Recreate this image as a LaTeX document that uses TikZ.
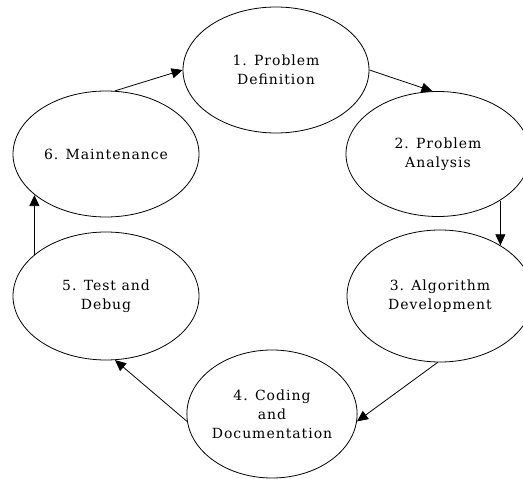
\documentclass[tikz,border=0pt]{standalone}
\usepackage{fontspec}
\setmainfont{DejaVu Serif}[LetterSpace=7]
\usetikzlibrary{shapes.geometric,arrows.meta}

\begin{document}
\begin{tikzpicture}[x=1pt,y=-1pt,
  phase/.style={draw=black, line width=0.8pt, ellipse, inner sep=0pt,
    align=center, font=\fontsize{14}{19}\selectfont},
  flow/.style={draw=black, line width=0.8pt,
    -{Triangle[length=11pt,width=10pt]}}]
\useasboundingbox (0,0) rectangle (523,479);

% the six phases of the cycle
\node[phase, minimum width=186pt, minimum height=126pt] (n1) at (276,70)  {1. Problem\\Definition};
\node[phase, minimum width=184pt, minimum height=125pt] (n2) at (438,154) {2. Problem\\Analysis};
\node[phase, minimum width=186pt, minimum height=132pt] (n3) at (440,296) {3. Algorithm\\Development};
\node[phase, minimum width=168pt, minimum height=128pt] (n4) at (272,414) {4. Coding\\and\\Documentation};
\node[phase, minimum width=186pt, minimum height=128pt] (n5) at (106,296) {5. Test and\\Debug};
\node[phase, minimum width=186pt, minimum height=126pt] (n6) at (106,154) {6. Maintenance};

% connectors
\draw[flow] (n6.82) -- (n1.180);
\draw[flow] (n1.0) -- (n2.95);
\draw[flow] (n3.40 |- n2.-37) -- (n3.40);
\draw[flow] (n3.-92) -- (n4.-5);
\draw[flow] (n4.185) -- (n5.-82);
\draw[flow] (n5.150) -- (n5.150 |- n6.210);
\end{tikzpicture}
\end{document}
